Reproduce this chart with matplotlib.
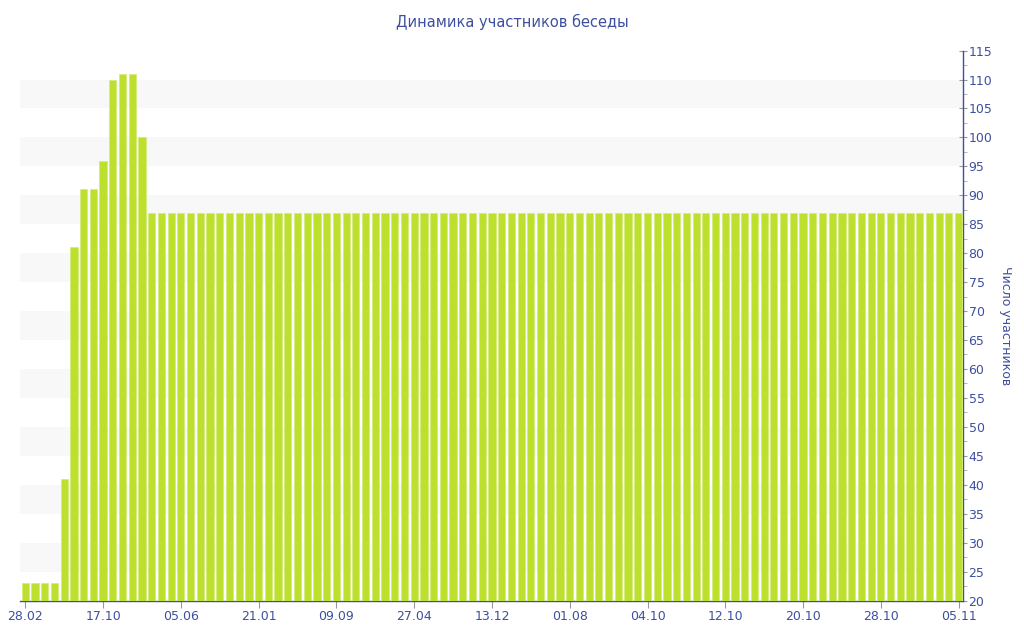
import matplotlib
matplotlib.use("Agg")
import matplotlib.pyplot as plt
from matplotlib.ticker import MultipleLocator

# ---- data ----
head_values = [23, 23, 23, 23, 41, 81, 91, 91, 96, 110, 111, 111, 100]
tail_count = 84
tail_value = 87
values = head_values + [tail_value] * tail_count
tick_positions = list(range(0, 97, 8))
tick_labels = ["28.02", "17.10", "05.06", "21.01", "09.09", "27.04", "13.12",
               "01.08", "04.10", "12.10", "20.10", "28.10", "05.11"]
title = "Динамика участников беседы"
ylabel = "Число участников"

blue = "#3d4f9f"
bar_color = "#bde02f"

fig = plt.figure(figsize=(10.24, 6.4), dpi=100)
ax = fig.add_axes([0.0195, 0.0617, 0.9209, 0.8593])

x = list(range(len(values)))
ax.bar(x, values, width=0.74, color=bar_color, edgecolor="#d4eb78", linewidth=0.5, zorder=3)

for lo in range(25, 110, 10):
    ax.axhspan(lo, lo + 5, color="#f8f8f8", zorder=0, lw=0)

ax.set_xlim(-0.55, len(values) - 0.55)
ax.set_ylim(20, 115)

ax.yaxis.tick_right()
ax.yaxis.set_label_position("right")
ax.yaxis.set_major_locator(MultipleLocator(5))
ax.yaxis.set_minor_locator(MultipleLocator(2.5))
ax.set_xticks(tick_positions)
ax.set_xticklabels(tick_labels)

for s in ["left", "top"]:
    ax.spines[s].set_visible(False)
for s in ["right", "bottom"]:
    ax.spines[s].set_color(blue)
    ax.spines[s].set_linewidth(1.0)

ax.tick_params(axis="y", which="major", direction="inout", length=6, color="#999999",
               labelcolor=blue, labelsize=9, pad=1)
ax.tick_params(axis="y", which="minor", direction="out", length=3, color="#aaaaaa")
ax.tick_params(axis="x", which="major", direction="out", length=5, color="#999999",
               labelcolor=blue, labelsize=9, pad=2)

ax.set_ylabel(ylabel, color=blue, fontsize=9, rotation=-90, labelpad=14)
fig.text(0.5, 0.966, title, ha="center", va="center", color=blue, fontsize=10.5)

fig.savefig("out.png", dpi=100)
